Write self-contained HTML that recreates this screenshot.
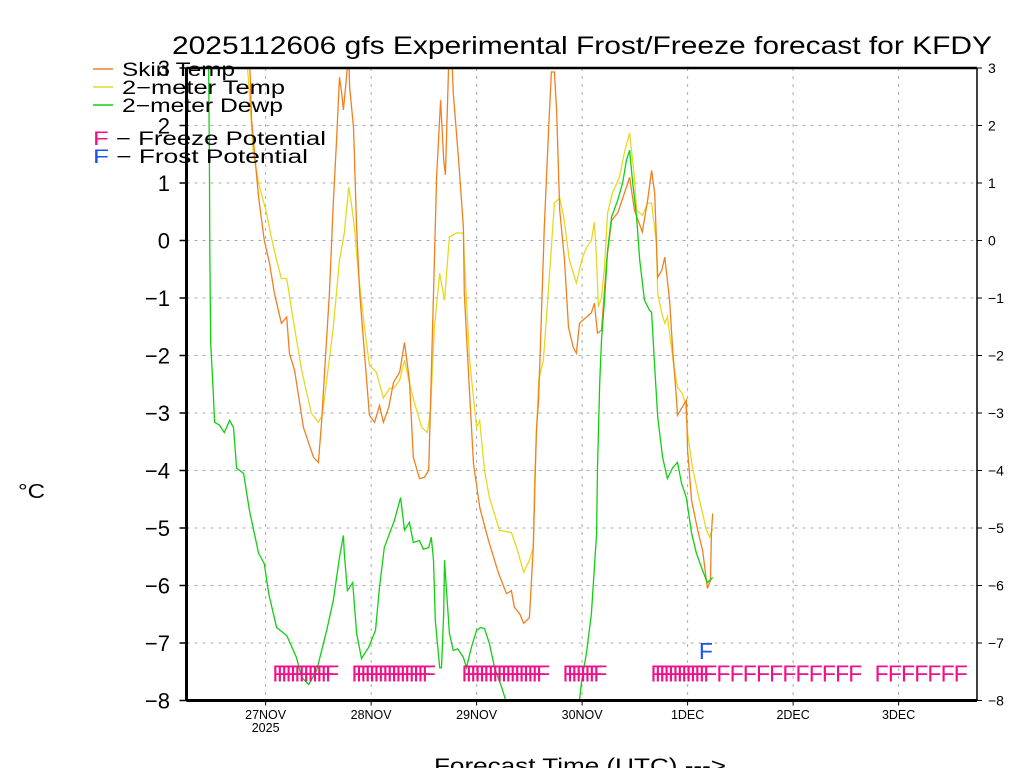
<!DOCTYPE html>
<html><head><meta charset="utf-8"><style>
html,body{margin:0;padding:0;background:#fff;}
svg{display:block;font-family:"Liberation Sans",sans-serif;}
</style></head><body>
<svg id="chart" width="1024" height="768" viewBox="0 0 1024 768" xmlns="http://www.w3.org/2000/svg">
<defs><clipPath id="plotclip"><rect x="186" y="68" width="791" height="633"/></clipPath></defs>
<rect x="0" y="0" width="1024" height="768" fill="#fff"/>
<text x="172" y="54" font-size="25" textLength="820" lengthAdjust="spacingAndGlyphs" fill="#000">2025112606 gfs Experimental Frost/Freeze forecast for KFDY</text>
<g id="grid"></g>
<g id="series" clip-path="url(#plotclip)"></g>
<g id="marks"></g>
<g id="axes"></g>
<g font-size="19">
  <line x1="93" y1="69" x2="113" y2="69" stroke="#f08020" stroke-width="1.5"/>
  <text x="122" y="76" textLength="113" lengthAdjust="spacingAndGlyphs">Skin Temp</text>
  <line x1="93" y1="87" x2="113" y2="87" stroke="#e8d820" stroke-width="1.5"/>
  <text x="122" y="94" textLength="163" lengthAdjust="spacingAndGlyphs">2−meter Temp</text>
  <line x1="93" y1="105" x2="113" y2="105" stroke="#10d010" stroke-width="1.5"/>
  <text x="122" y="112" textLength="161" lengthAdjust="spacingAndGlyphs">2−meter Dewp</text>
  <text x="93" y="145" textLength="233" lengthAdjust="spacingAndGlyphs"><tspan fill="#f0108a">F</tspan> −  Freeze Potential</text>
  <text x="93" y="163" textLength="215" lengthAdjust="spacingAndGlyphs"><tspan fill="#2050f0">F</tspan> −  Frost Potential</text>
</g>
<text x="18" y="498" font-size="20" textLength="27" lengthAdjust="spacingAndGlyphs">°C</text>
<text x="434" y="773" font-size="21" textLength="292" lengthAdjust="spacingAndGlyphs">Forecast Time (UTC) ---&gt;</text>
</svg>
<script>
// hours since 26NOV2025 06Z
const dayLabels = ["27NOV","28NOV","29NOV","30NOV","1DEC","2DEC","3DEC"];
const dayHours = [18,42,66,90,114,138,162];
const yTicks = [3,2,1,0,-1,-2,-3,-4,-5,-6,-7,-8];
const skinHours = [14.3,14.8,15.9,16.4,17.7,18.9,20.0,21.6,22.8,23.4,24.6,26.6,28.9,30.0,30.7,31.4,32.5,33.4,34.1,34.8,35.3,35.7,36.4,36.9,37.1,38.0,38.7,39.4,40.3,41.6,42.8,43.9,44.8,46.0,47.1,48.5,49.6,50.7,51.6,53.0,54.1,55.1,56.2,56.9,57.8,58.5,58.9,59.6,60.3,60.7,61.9,63.0,63.2,64.4,65.3,66.7,68.7,71.0,72.8,73.9,74.6,75.8,76.7,78.0,78.9,79.6,80.1,81.4,82.4,83.0,83.7,84.2,84.9,86.0,86.9,88.0,88.7,89.4,91.0,92.1,92.8,93.5,94.4,95.6,96.7,98.1,100.1,100.8,101.9,103.7,104.9,105.8,106.5,107.2,108.1,108.8,109.9,110.6,111.5,111.7,113.7,114.0,114.9,116.3,117.4,118.5,119.2,119.4,119.7];
const skinTemp = [3.3,2.09,1.17,0.75,0.0,-0.40,-0.92,-1.44,-1.33,-1.96,-2.26,-3.25,-3.77,-3.86,-3.18,-2.31,-0.92,0.65,1.69,2.84,2.56,2.27,2.84,3.3,2.67,1.97,0.23,-0.92,-1.79,-3.04,-3.16,-2.87,-3.16,-2.90,-2.47,-2.29,-1.77,-2.43,-3.77,-4.14,-4.12,-4.00,-0.92,1.10,2.44,1.40,1.14,2.97,3.3,2.56,1.40,0.23,-0.92,-2.66,-3.88,-4.64,-5.22,-5.79,-6.14,-6.09,-6.38,-6.49,-6.66,-6.56,-5.34,-3.30,-2.78,0.23,1.97,2.93,2.93,2.27,0.53,-0.34,-1.51,-1.86,-1.96,-1.44,-1.33,-1.26,-1.09,-1.61,-1.56,-0.34,0.35,0.48,0.93,1.10,0.53,0.15,0.70,1.22,0.82,-0.64,-0.52,-0.29,-1.04,-1.91,-2.78,-3.04,-2.78,-3.65,-4.52,-5.04,-5.39,-6.05,-5.91,-5.09,-4.75];
const t2Hours = [13.6,14.3,15.2,16.4,18.2,19.3,20.5,21.6,22.8,24.3,26.2,28.4,30.0,30.9,31.9,33.4,34.8,35.9,36.9,37.5,38.2,39.1,40.5,41.6,43.2,44.8,46.2,47.1,48.5,49.6,50.7,51.9,53.5,54.8,55.5,56.4,57.6,58.7,59.8,61.4,63.0,63.2,64.4,66.0,66.7,67.8,68.9,71.2,73.9,75.1,76.7,78.0,78.9,79.2,80.1,81.2,82.6,83.7,84.9,85.8,87.1,88.7,89.9,91.0,92.1,92.8,93.3,93.7,94.4,95.1,95.8,96.9,98.5,99.6,100.8,101.9,102.4,103.7,104.9,105.8,106.9,107.2,108.1,108.8,109.4,110.3,111.0,111.7,112.8,113.5,114.0,115.1,116.7,118.3,119.0,119.7];
const t2Temp = [3.3,2.56,1.52,1.0,0.48,0.06,-0.34,-0.66,-0.66,-1.39,-2.26,-3.0,-3.16,-3.04,-2.43,-1.51,-0.34,0.13,0.93,0.65,0.23,-0.57,-1.51,-2.17,-2.29,-2.74,-2.57,-2.57,-2.43,-2.08,-2.48,-2.83,-3.25,-3.34,-2.95,-1.51,-0.57,-1.04,0.06,0.13,0.13,-0.34,-2.08,-3.25,-3.13,-4.0,-4.47,-5.04,-5.08,-5.34,-5.77,-5.56,-5.34,-4.17,-2.43,-2.08,-0.57,0.65,0.74,0.41,-0.34,-0.74,-0.34,-0.12,0.0,0.32,-0.34,-1.16,-0.99,-0.46,0.48,0.83,1.10,1.52,1.87,1.10,0.53,0.44,0.65,0.65,-0.05,-0.92,-1.26,-1.44,-1.33,-1.86,-2.26,-2.55,-2.66,-2.83,-3.35,-3.95,-4.52,-5.04,-5.16,-5.01];
const dewHours = [5.0,5.2,5.3,5.5,6.1,6.4,7.5,8.6,9.8,10.7,11.4,13.0,14.3,16.4,17.7,18.7,20.5,22.8,25.0,26.2,27.8,29.6,31.9,33.4,34.8,35.7,35.9,36.6,37.8,38.7,39.8,41.4,43.0,43.9,45.0,46.2,47.3,48.7,49.6,50.7,51.6,53.0,53.9,55.1,55.7,56.2,56.6,57.6,58.0,58.5,58.7,59.2,59.8,60.7,61.7,63.0,63.7,64.8,66.0,66.9,67.8,68.9,70.1,71.7,72.8,75.0,88.0,89.4,89.9,91.0,92.1,93.3,93.5,94.0,94.4,95.1,95.8,96.7,98.1,99.2,100.1,100.8,101.5,102.4,103.1,104.2,105.3,105.8,106.5,107.2,108.3,109.4,110.6,111.7,112.6,113.7,114.9,116.0,117.4,118.5,119.7];
const dewTemp = [3.3,1.40,-0.17,-1.79,-2.66,-3.16,-3.21,-3.34,-3.13,-3.25,-3.96,-4.05,-4.69,-5.44,-5.62,-6.14,-6.73,-6.87,-7.25,-7.60,-7.72,-7.48,-6.78,-6.26,-5.51,-5.13,-5.44,-6.09,-5.95,-6.83,-7.27,-7.08,-6.78,-6.03,-5.34,-5.09,-4.87,-4.47,-5.04,-4.90,-5.25,-5.22,-5.37,-5.34,-5.16,-5.56,-6.61,-7.43,-7.43,-6.49,-5.56,-6.14,-6.83,-7.13,-7.10,-7.25,-7.43,-7.08,-6.78,-6.73,-6.75,-7.01,-7.43,-7.77,-8.04,-9.0,-9.0,-8.0,-7.65,-7.17,-6.49,-5.09,-3.95,-2.48,-1.73,-1.04,-0.17,0.41,0.70,1.0,1.40,1.57,1.0,0.41,-0.34,-1.04,-1.21,-1.25,-2.20,-3.07,-3.77,-4.14,-3.95,-3.86,-4.22,-4.47,-5.09,-5.44,-5.74,-5.95,-5.86];
const freezeHours = [20,21,22,23,24,25,26,27,28,29,30,31,32,
 38,39,40,41,42,43,44,45,46,47,48,49,50,51,52,53,54,
 63,64,65,66,67,68,69,70,71,72,73,74,75,76,77,78,79,80,
 86,87,88,89,90,91,92,93,
 106,107,108,109,110,111,112,113,114,115,116,117,118,
 121,124,127,130,133,136,139,142,145,148,151,
 157,160,163,166,169,172,175];
const frostHours = [117];

const X0=186.5, PX_PER_H=105.5/24, Y0=68, Y1=700.5, VMAX=3, VMIN=-8;
const xs = h => X0 + h*PX_PER_H;
const ys = v => Y0 + (VMAX - v)*(Y1-Y0)/(VMAX-VMIN);
const NS="http://www.w3.org/2000/svg";
function mk(tag, attrs, parent){const e=document.createElementNS(NS,tag);for(const k in attrs)e.setAttribute(k,attrs[k]);parent.appendChild(e);return e;}
const grid=document.getElementById('grid'), axes=document.getElementById('axes'), series=document.getElementById('series'), marks=document.getElementById('marks');
const XR=977;
yTicks.forEach(v=>{
  const y=ys(v);
  if(v<VMAX && v>VMIN){
    const g=mk('line',{x1:X0,x2:XR,y1:y,y2:y,stroke:'#aaa','stroke-width':1,'stroke-dasharray':'3,5'},grid);
    
    
  }
  const t=mk('line',{x1:X0-7,x2:X0,y1:y,y2:y,stroke:'#000','stroke-width':1.5},axes);
  
  
  const t2=mk('line',{x1:XR,x2:XR+5,y1:y,y2:y,stroke:'#000','stroke-width':1},axes);
  
  
  const lab=mk('text',{x:170,y:y+8,'font-size':22,'text-anchor':'end'},axes);
  lab.textContent=(v<0?'−':'')+Math.abs(v);
  
  
  const lab2=mk('text',{x:988,y:y+5,'font-size':14},axes);
  lab2.textContent=(v<0?'−':'')+Math.abs(v);
  
  
});
dayHours.forEach((h,i)=>{
  const x=xs(h);
  const g=mk('line',{x1:x,x2:x,y1:Y0,y2:Y1,stroke:'#aaa','stroke-width':1,'stroke-dasharray':'3,5'},grid);
  
  
  const t=mk('line',{x1:x,x2:x,y1:Y1,y2:Y1+5,stroke:'#000','stroke-width':1},axes);
  
  
  const lab=mk('text',{x:x,y:719,'font-size':12.5,'text-anchor':'middle'},axes);
  lab.textContent=dayLabels[i];
  
  
});
const yr=mk('text',{x:xs(dayHours[0]),y:732,'font-size':12.5,'text-anchor':'middle'},axes);
yr.textContent='2025';


const frame=[[X0,Y0,XR,Y0,2.5],[X0,Y0,X0,Y1,3],[X0,Y1,XR,Y1,3],[XR,Y0,XR,Y1,1.5]];
frame.forEach(f=>{
  const l=mk('line',{x1:f[0],y1:f[1],x2:f[2],y2:f[3],stroke:'#000','stroke-width':f[4]},axes);
  
  
});
function drawLine(hours, vals, color, name){
  const d=hours.map((h,i)=>(i?'L':'M')+xs(h).toFixed(1)+','+ys(vals[i]).toFixed(1)).join('');
  const p=mk('path',{d:d,fill:'none',stroke:color,'stroke-width':1.3},series);
  
  
}
drawLine(t2Hours,t2Temp,'#e8d820','2m-temp-line');
drawLine(skinHours,skinTemp,'#f08020','skin-temp-line');
drawLine(dewHours,dewTemp,'#10d010','2m-dewp-line');
freezeHours.forEach(h=>{
  const t=mk('text',{x:xs(h)-2,y:681.5,'font-size':23,fill:'#f0108a'},marks);
  t.textContent='F';
  
  
});
frostHours.forEach(h=>{
  const t=mk('text',{x:xs(h)-2,y:659,'font-size':23,fill:'#2050f0'},marks);
  t.textContent='F';
  
  
});
</script>
</body></html>
